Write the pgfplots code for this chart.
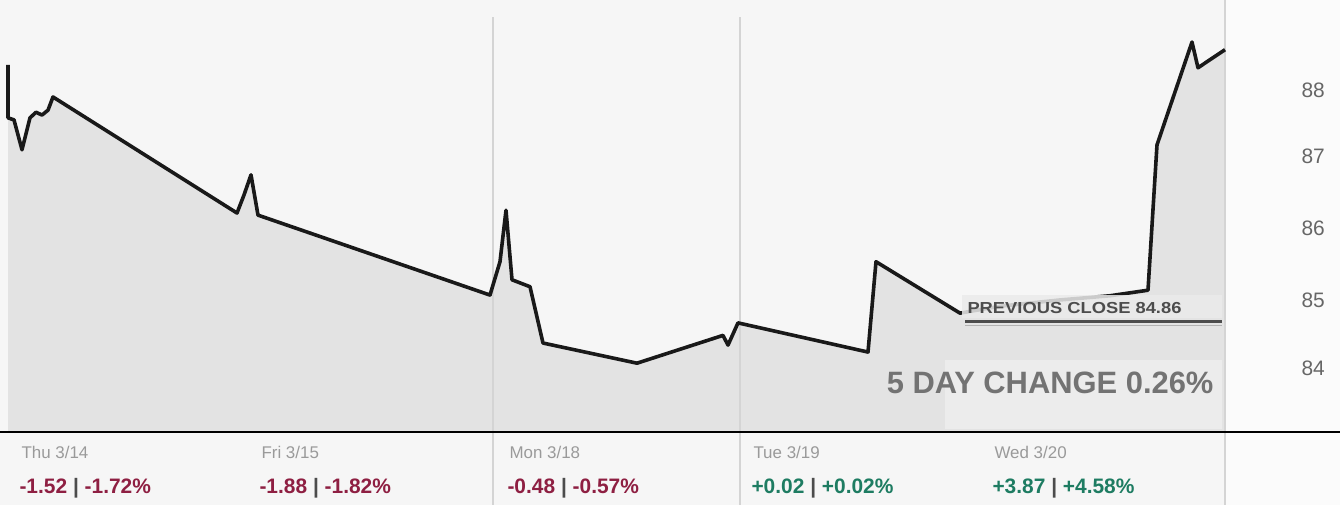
\documentclass[border=0pt]{standalone}
\usepackage{pgfplots}
\pgfplotsset{compat=1.18}
\usepackage{graphicx}
\usepackage{fontspec}
\setmainfont{Liberation Sans}
\definecolor{bgc}{HTML}{F6F6F6}
\definecolor{areac}{HTML}{E3E3E3}
\definecolor{labc}{HTML}{9A9A9A}
\definecolor{negc}{HTML}{8E1F42}
\definecolor{posc}{HTML}{1E7C62}
\definecolor{sepc}{HTML}{D4D4D4}

\begin{document}
\begin{tikzpicture}
\begin{axis}[
    at={(0,0)}, anchor=south west,
    scale only axis,
    width=1340bp, height=505bp,
    xmin=0, xmax=1340,
    ymin=82.03, ymax=89.295,
    axis lines=none,
    clip=false,
]
% background
\fill[bgc] (axis cs:0,82.03) rectangle (axis cs:1340,89.295);
\fill[white!60!bgc] (axis cs:1225,82.03) rectangle (axis cs:1340,89.295);

% shaded area under price
\addplot[fill=areac, draw=none] coordinates {
 (8,83.08) (8,88.36) (8,87.60) (14,87.57) (22,87.14) (30,87.60) (36,87.68) (42,87.64)
 (48,87.71) (53,87.90) (237,86.23) (244,86.49) (251,86.78) (258,86.20) (490,85.05)
 (500,85.53) (506,86.27) (512,85.27) (530,85.17) (543,84.36) (637,84.07) (723,84.47)
 (728,84.33) (738,84.65) (868,84.23) (876,85.53) (960,84.79) (1000,84.89) (1060,84.98)
 (1110,85.04) (1148,85.12) (1157,87.21) (1192,88.69) (1198,88.32) (1225,88.58) (1225,83.08)
} --cycle;

% day separators
\draw[sepc, line width=1.2bp] (axis cs:493,82.03) -- (axis cs:493,89.05);
\draw[sepc, line width=1.2bp] (axis cs:740,82.03) -- (axis cs:740,89.05);
\draw[sepc, line width=1.2bp] (axis cs:1225,82.03) -- (axis cs:1225,89.295);

% price line
\addplot[black!90, line width=3.6bp, line join=round] coordinates {
 (8,88.36) (8,87.60) (14,87.57) (22,87.14) (30,87.60) (36,87.68) (42,87.64)
 (48,87.71) (53,87.90) (237,86.23) (244,86.49) (251,86.78) (258,86.20) (490,85.05)
 (500,85.53) (506,86.27) (512,85.27) (530,85.17) (543,84.36) (637,84.07) (723,84.47)
 (728,84.33) (738,84.65) (868,84.23) (876,85.53) (960,84.79) (1000,84.89) (1060,84.98)
 (1110,85.04) (1148,85.12) (1157,87.21) (1192,88.69) (1198,88.32) (1225,88.58)
};

% previous close box and line
\fill[white!30!areac, opacity=0.85] (axis cs:962,84.72) rectangle (axis cs:1222,85.05);
\node[anchor=west, text=black!70, font=\bfseries\fontsize{16}{17}\selectfont] at (axis cs:964,84.86) {\scalebox{1.15}[1]{PREVIOUS CLOSE 84.86}};
\draw[black!70, line width=2.2bp] (axis cs:965,84.67) -- (axis cs:1222,84.67);
\draw[black!30, line width=1bp] (axis cs:965,84.61) -- (axis cs:1222,84.61);
\fill[white, opacity=0.35] (axis cs:945,83.13) rectangle (axis cs:1222,84.12);
\node[anchor=east, text=black!55, font=\bfseries\fontsize{31}{33}\selectfont] at (axis cs:1217,83.78) {5 DAY CHANGE 0.26\%};

% y labels
\node[anchor=west, text=black!60, font=\fontsize{21}{22}\selectfont] at (axis cs:1298,88.00) {88};
\node[anchor=west, text=black!60, font=\fontsize{21}{22}\selectfont] at (axis cs:1298,87.04) {87};
\node[anchor=west, text=black!60, font=\fontsize{21}{22}\selectfont] at (axis cs:1298,86.01) {86};
\node[anchor=west, text=black!60, font=\fontsize{21}{22}\selectfont] at (axis cs:1298,84.98) {85};
\node[anchor=west, text=black!60, font=\fontsize{21}{22}\selectfont] at (axis cs:1298,84.00) {84};

% bottom axis line
\draw[black, line width=2.4bp] (axis cs:0,83.08) -- (axis cs:1340,83.08);

% day labels and changes
\node[anchor=west, text=labc, font=\fontsize{17}{18}\selectfont] at (axis cs:18,82.79) {Thu 3/14};
\node[anchor=west, text=labc, font=\fontsize{17}{18}\selectfont] at (axis cs:258,82.79) {Fri 3/15};
\node[anchor=west, text=labc, font=\fontsize{17}{18}\selectfont] at (axis cs:506,82.79) {Mon 3/18};
\node[anchor=west, text=labc, font=\fontsize{17}{18}\selectfont] at (axis cs:750,82.79) {Tue 3/19};
\node[anchor=west, text=labc, font=\fontsize{17}{18}\selectfont] at (axis cs:991,82.79) {Wed 3/20};
\node[anchor=west, font=\bfseries\fontsize{21}{22}\selectfont] at (axis cs:16,82.27) {\textcolor{negc}{-1.52} \textcolor{black!70}{|} \textcolor{negc}{-1.72\%}};
\node[anchor=west, font=\bfseries\fontsize{21}{22}\selectfont] at (axis cs:256,82.27) {\textcolor{negc}{-1.88} \textcolor{black!70}{|} \textcolor{negc}{-1.82\%}};
\node[anchor=west, font=\bfseries\fontsize{21}{22}\selectfont] at (axis cs:504,82.27) {\textcolor{negc}{-0.48} \textcolor{black!70}{|} \textcolor{negc}{-0.57\%}};
\node[anchor=west, font=\bfseries\fontsize{21}{22}\selectfont] at (axis cs:748,82.27) {\textcolor{posc}{+0.02} \textcolor{black!70}{|} \textcolor{posc}{+0.02\%}};
\node[anchor=west, font=\bfseries\fontsize{21}{22}\selectfont] at (axis cs:989,82.27) {\textcolor{posc}{+3.87} \textcolor{black!70}{|} \textcolor{posc}{+4.58\%}};
\end{axis}
\pgfresetboundingbox
\path[use as bounding box] (0,0) rectangle (1340bp,505bp);
\end{tikzpicture}
\end{document}
